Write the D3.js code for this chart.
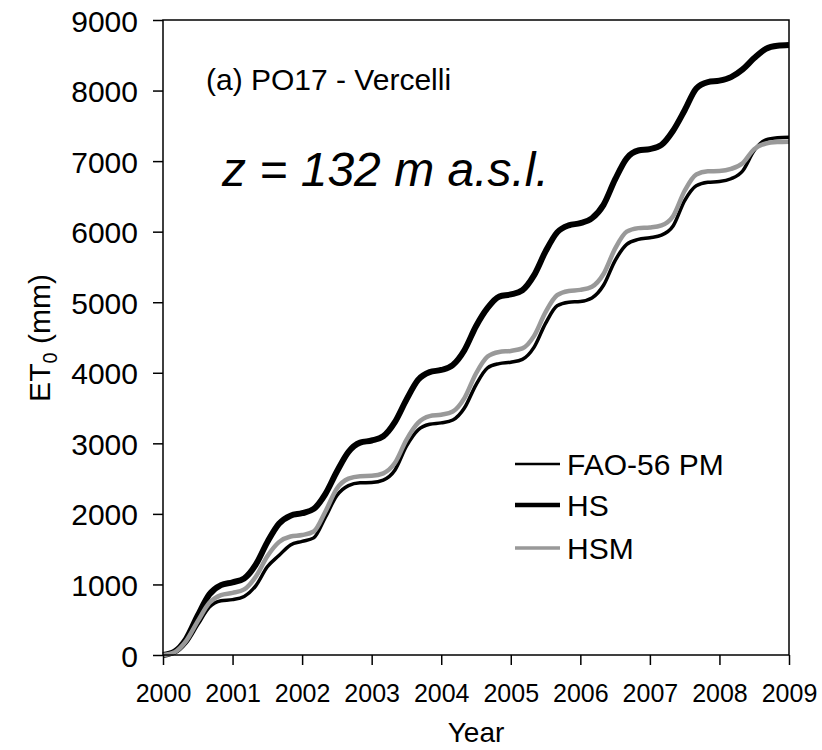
<!doctype html>
<meta charset="utf-8">
<title>ET0 cumulative - PO17 Vercelli</title>
<script src="https://cdn.jsdelivr.net/npm/d3@7"></script>
<style>
  body { margin: 0; background: #fff; }
  svg { font-family: "Liberation Sans", Arial, sans-serif; }
</style>
<svg id="chart" width="822" height="750"></svg>
<script>
  // sample dates, every two months (Jan, Mar, May, Jul, Sep, Nov) + end of record
  const months = []
  for (let y = 2000; y < 2009; y++) {
    ;['01', '03', '05', '07', '09', '11'].forEach(m => months.push(`${y}-${m}`))
  }
  months.push('2009-01')

  const years = [2000, 2001, 2002, 2003, 2004, 2005, 2006, 2007, 2008, 2009]
  const yTicks = [0, 1000, 2000, 3000, 4000, 5000, 6000, 7000, 8000, 9000]

  // cumulative ET0 (mm)
  const fao = [
    0, 30, 170, 430, 680, 770,
    785, 830, 980, 1250, 1410, 1560,
    1610, 1660, 1950, 2260, 2400, 2440,
    2445, 2480, 2620, 2960, 3190, 3270,
    3290, 3330, 3500, 3830, 4070, 4130,
    4150, 4190, 4360, 4700, 4950, 5000,
    5010, 5060, 5240, 5590, 5820, 5890,
    5915, 5950, 6080, 6440, 6650, 6700,
    6710, 6750, 6860, 7150, 7300, 7330,
    7337
  ]
  const hs = [
    0, 50, 230, 560, 860, 990,
    1030, 1085, 1280, 1600, 1860, 1975,
    2010, 2070, 2280, 2600, 2880, 3010,
    3040, 3100, 3300, 3620, 3900, 4010,
    4040, 4110, 4320, 4660, 4920, 5080,
    5110, 5170, 5380, 5720, 5990, 6090,
    6120, 6190, 6380, 6740, 7040, 7150,
    7170, 7230, 7430, 7720, 8030, 8120,
    8140, 8190, 8300, 8460, 8590, 8635,
    8645
  ]
  const hsm = [
    0, 40, 200, 480, 740, 850,
    880, 930, 1110, 1400, 1600, 1680,
    1700, 1750, 2030, 2360, 2500, 2535,
    2540, 2575, 2720, 3050, 3290, 3385,
    3405, 3450, 3640, 3990, 4230, 4295,
    4310, 4345, 4520, 4860, 5100, 5160,
    5175, 5220, 5400, 5760, 6000, 6050,
    6060, 6090, 6220, 6580, 6810, 6855,
    6860, 6890, 6970, 7170, 7250, 7270,
    7275
  ]

  const seriesList = [
    { name: 'FAO-56 PM', values: fao, color: '#000', width: 3.5, legendWidth: 2.5 },
    { name: 'HS', values: hs, color: '#000', width: 6, legendWidth: 4.5 },
    { name: 'HSM', values: hsm, color: '#999', width: 4.5, legendWidth: 3.5 },
  ]

  const margin = { top: 20, right: 33, bottom: 95, left: 163 }
  const svg = d3.select('#chart')
  const width = +svg.attr('width') - margin.left - margin.right
  const height = +svg.attr('height') - margin.top - margin.bottom

  // month string -> decimal year
  const toYear = s => {
    const [y, m] = s.split('-').map(Number)
    return y + (m - 1) / 12
  }

  const x = d3.scaleLinear().domain([2000, 2009]).range([0, width])
  const y = d3.scaleLinear().domain([0, 9000]).range([height, 0])

  const g = svg.append('g').attr('transform', `translate(${margin.left},${margin.top})`)

  // curves
  const line = d3.line()
    .x((d, i) => x(toYear(months[i])))
    .y(d => y(d))
    .curve(d3.curveMonotoneX)

  const order = [1, 0, 2] // HS under, HSM on top
  order.forEach(k => {
    const s = seriesList[k]
    g.append('path')
      .attr('fill', 'none')
      .attr('stroke', s.color)
      .attr('stroke-width', s.width)
      .attr('stroke-linejoin', 'round')
      .attr('d', line(s.values))
  })

  // axes
  const xAxis = g.append('g')
    .attr('transform', `translate(0,${height})`)
    .call(d3.axisBottom(x).tickValues(years).tickFormat(d3.format('d')).tickSize(10).tickSizeOuter(0))
  xAxis.selectAll('text').attr('font-size', 25).attr('dy', 0).attr('y', 47).attr('fill', '#000')

  const yAxis = g.append('g')
    .call(d3.axisLeft(y).tickValues(yTicks).tickFormat(d3.format('d')).tickSize(10).tickSizeOuter(0))
  yAxis.selectAll('text').attr('font-size', 30).attr('dy', 0).attr('x', -25).attr('y', 11).attr('fill', '#000')

  svg.selectAll('.domain').remove()
  svg.selectAll('.tick line').attr('stroke', '#000').attr('stroke-width', 1.5)

  // frame
  g.append('rect')
    .attr('width', width).attr('height', height)
    .attr('fill', 'none').attr('stroke', '#000').attr('stroke-width', 1.5)

  // axis titles
  svg.append('text')
    .attr('x', margin.left + width / 2).attr('y', 742)
    .attr('text-anchor', 'middle').attr('font-size', 28)
    .text('Year')

  const yl = svg.append('text')
    .attr('transform', 'translate(50,338) rotate(-90)')
    .attr('text-anchor', 'middle').attr('font-size', 30)
  yl.append('tspan').text('ET')
  yl.append('tspan').attr('font-size', 20).attr('dy', 7).text('0')
  yl.append('tspan').attr('dy', -7).text(' (mm)')

  // annotations
  svg.append('text').attr('x', 206).attr('y', 90).attr('font-size', 30)
    .text('(a) PO17 - Vercelli')
  svg.append('text').attr('x', 222).attr('y', 186).attr('font-size', 48)
    .attr('font-style', 'italic')
    .text('z = 132 m a.s.l.')

  // legend
  const legend = svg.append('g')
  const legendY = [464, 505, 548]
  seriesList.forEach((s, i) => {
    legend.append('line')
      .attr('x1', 515).attr('x2', 560)
      .attr('y1', legendY[i]).attr('y2', legendY[i])
      .attr('stroke', s.color).attr('stroke-width', s.legendWidth)
    legend.append('text')
      .attr('x', 567).attr('y', legendY[i] + 11)
      .attr('font-size', 30)
      .text(s.name)
  })
</script>
